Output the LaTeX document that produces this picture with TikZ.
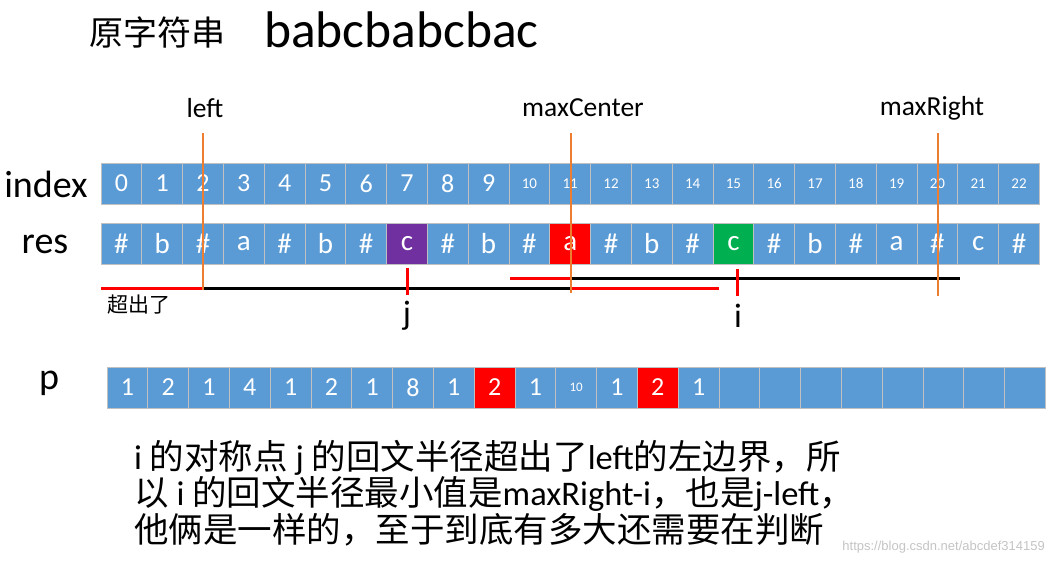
\documentclass[tikz,border=0pt]{standalone}
\usepackage{fontspec}
\setmainfont{Carlito}
\newfontfamily\cjk{Noto Sans CJK SC}
\newfontfamily\wmfont{Liberation Sans}
\definecolor{cellblue}{HTML}{5B9BD5}
\definecolor{cellred}{HTML}{FF0000}
\definecolor{cellpurple}{HTML}{7030A0}
\definecolor{cellgreen}{HTML}{00B050}
\definecolor{cellborder}{HTML}{C0C0C0}
\definecolor{orangeline}{HTML}{ED7D31}
\definecolor{wmgray}{HTML}{C4C4C4}
\begin{document}
\begin{tikzpicture}[x=1pt,y=-1pt,
  cell/.style={draw=cellborder, line width=1pt, minimum width=40.8pt, minimum height=41pt, inner sep=0pt, text=white},
  bigdigit/.style={font=\fontsize{26}{26}\selectfont},
  smalldigit/.style={font=\fontsize{15}{15}\selectfont},
  reschar/.style={font=\fontsize{29}{29}\selectfont},
  rowlabel/.style={font=\fontsize{38}{38}\selectfont, text=black},
  ptrlabel/.style={font=\fontsize{27.5}{27.5}\selectfont, text=black},
  orangebar/.style={draw=orangeline, line width=2.8pt},
  redseg/.style={draw=cellred, line width=3pt},
  blackseg/.style={draw=black, line width=3pt},
  bodytext/.style={anchor=west, font=\fontsize{34.5}{36}\selectfont, inner sep=0pt}
]
\useasboundingbox (0,0) rectangle (1053,565);

% title
\node[font=\cjk\fontsize{34}{34}\selectfont, anchor=west, inner sep=0pt] (title) at (89,32) {原字符串};
\node[font=\fontsize{51.5}{51.5}\selectfont, anchor=west, inner sep=0pt] (orig) at (264,30) {babcbabcbac};

% row labels
\node[rowlabel] (lindex) at (46,184) {index};
\node[rowlabel] (lres) at (45,244) {res};
\node[rowlabel] (lp) at (49,383) {p};

% index row
\foreach \k in {0,...,9}
  \node[cell, fill=cellblue, bigdigit] (ix\k) at ({101+40.8*\k+20.4},183.5) {\k};
\foreach \k in {10,...,22}
  \node[cell, fill=cellblue, smalldigit] (ix\k) at ({101+40.8*\k+20.4},183.5) {\k};

% res row
\foreach \k/\c/\f in {0/\#/cellblue,1/b/cellblue,2/\#/cellblue,3/a/cellblue,4/\#/cellblue,5/b/cellblue,6/\#/cellblue,7/c/cellpurple,8/\#/cellblue,9/b/cellblue,10/\#/cellblue,11/a/cellred,12/\#/cellblue,13/b/cellblue,14/\#/cellblue,15/c/cellgreen,16/\#/cellblue,17/b/cellblue,18/\#/cellblue,19/a/cellblue,20/\#/cellblue,21/c/cellblue,22/\#/cellblue}
  \node[cell, fill=\f, reschar] (rs\k) at ({101+40.8*\k+20.4},243.5) {\c};

% p row
\foreach \k/\v/\f in {0/1/cellblue,1/2/cellblue,2/1/cellblue,3/4/cellblue,4/1/cellblue,5/2/cellblue,6/1/cellblue,7/8/cellblue,8/1/cellblue,9/2/cellred,10/1/cellblue,11/{\fontsize{13}{13}\selectfont 10}/cellblue,12/1/cellblue,13/2/cellred,14/1/cellblue,15/{}/cellblue,16/{}/cellblue,17/{}/cellblue,18/{}/cellblue,19/{}/cellblue,20/{}/cellblue,21/{}/cellblue,22/{}/cellblue}
  \node[cell, fill=\f, bigdigit] (pp\k) at ({107+40.8*\k+20.4},387.5) {\v};

% pointer labels
\node[ptrlabel] (lleft) at (205,108) {left};
\node[ptrlabel] (lcenter) at (583,108) {maxCenter};
\node[ptrlabel] (lright) at (932,108) {maxRight};

% coordinates
\coordinate (lefttop) at (203,133);
\coordinate (leftbot) at (203,290);
\coordinate (ctrtop) at (571,133);
\coordinate (ctrbot) at (571,293);
\coordinate (rgttop) at (938,133);
\coordinate (rgtbot) at (938,296);

\coordinate (la) at (101,288);
\coordinate (lb) at (203,288);
\coordinate (lc) at (571,288);
\coordinate (ld) at (719,288);
\coordinate (ua) at (510,278);
\coordinate (ub) at (571,278);
\coordinate (uc) at (960,278);

% segments
\draw[redseg] (la) -- (lb);
\draw[blackseg] (lb) -- (lc);
\draw[redseg] (lc) -- (ld);
\draw[redseg] (ua) -- (ub);
\draw[blackseg] (ub) -- (uc);

% orange bars
\draw[orangebar] (lefttop) -- (leftbot);
\draw[orangebar] (ctrtop) -- (ctrbot);
\draw[orangebar] (rgttop) -- (rgtbot);

% ticks
\coordinate (jt) at (407,268);
\coordinate (jb) at (407,295);
\coordinate (it) at (737,269);
\coordinate (ib) at (737,296);
\draw[redseg] (jt) -- (jb);
\draw[redseg] (it) -- (ib);

\node[font=\fontsize{34}{34}\selectfont] (jl) at (407,316) {j};
\node[font=\fontsize{34}{34}\selectfont] (il) at (738,316) {i};
\node[font=\cjk\fontsize{21}{21}\selectfont, anchor=west, inner sep=0pt] (exceed) at (107,305) {超出了};

% explanation
\node[bodytext] (t1) at (134,458) {i {\cjk 的对称点} j {\cjk 的回文半径超出了}left{\cjk 的左边界，所}};
\node[bodytext] (t2) at (134,494) {{\cjk 以} i {\cjk 的回文半径最小值是}maxRight-i{\cjk ，也是}j-left{\cjk ，}};
\node[bodytext] (t3) at (134,530) {{\cjk 他俩是一样的，至于到底有多大还需要在判断}};

% watermark
\node[font=\wmfont\fontsize{13}{13}\selectfont, text=wmgray, anchor=east, inner sep=0pt] (wm) at (1045,547) {https://blog.csdn.net/abcdef314159};
\end{tikzpicture}
\end{document}
